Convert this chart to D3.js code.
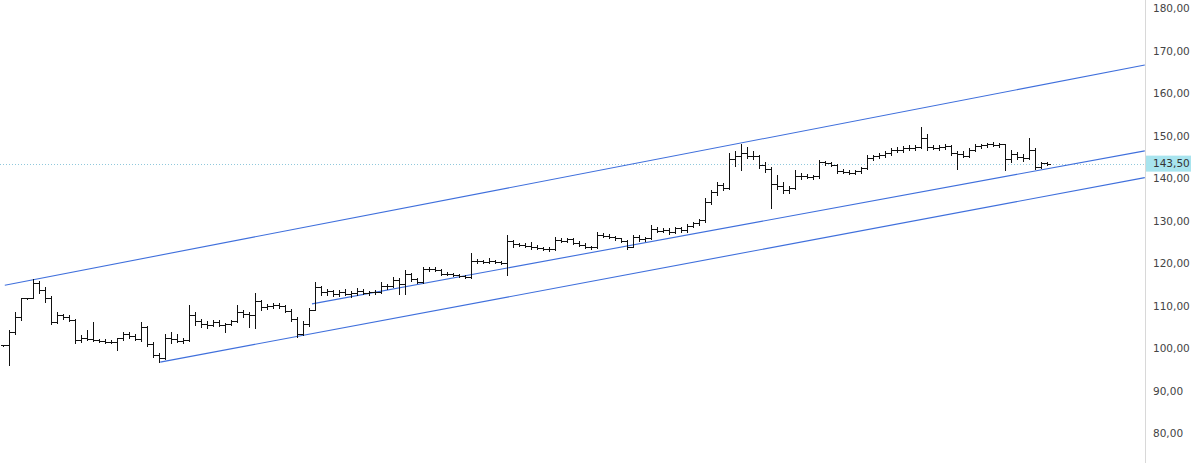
<!DOCTYPE html>
<html>
<head>
<meta charset="utf-8">
<script src="https://cdn.jsdelivr.net/npm/d3@7"></script>
<style>
  body { margin: 0; background: #fff; }
  svg { display: block; }
</style>
</head>
<body>
<div id="chart"></div>
<script>
// bar values (price), one per bar index
const opens = [100.8,100.8,104,107.5,111.9,111.9,115.5,113.8,112,106.3,107.8,107.4,106.8,102,102.5,102.3,101.9,101.8,101.6,101.5,
  102.5,103.5,103,102.2,105,101,98.5,97.8,102.5,102.3,101.8,102,108,106.5,105.8,105.5,106.3,105.6,105.8,106.5,
  108.5,108.2,107.8,111.2,109.8,110,110.3,109.9,108.9,107,103.5,105.8,109,114.5,113.2,113.5,112.8,113.3,112.9,113,
  113.5,113.1,113.4,113.2,114.8,114.6,116.2,115.2,117.5,116.3,115.7,118.7,118.8,118.4,117.6,117.5,117.3,117,116.8,120.6,
  120.5,120.4,120.6,120.4,120.1,125.2,124.5,124.4,124.1,124,123.6,123.4,123.3,125.6,125.4,125.7,124.9,124.4,123.9,123.8,
  126.8,126.5,126.2,125.9,125.2,124,126.2,125.8,126,128.2,127.7,128,127.4,128.3,127.8,128.9,129.5,130.2,134.5,136.8,
  138.5,137.8,144.5,145.2,146,145.3,145.2,143.2,142.3,138.8,138.2,137.2,137.8,140.5,140.6,140.4,140.5,143.8,143.6,143.2,
  141.8,141.6,141.4,141.7,142.5,144.8,145.2,145.6,145.9,146.8,146.6,147.2,147.1,147.5,149.5,147.3,147.2,147.4,147.6,146,
  145.8,145.4,146.8,147.6,147.9,148.1,147.9,148,144.5,145.8,145.1,144.8,146.8,142.8,143.6];
const highs = [100.9,104.4,108.6,111.9,112,116.3,116,114.5,112.3,108.5,108.2,107.8,107,103.2,104.4,106.3,102.3,102.2,102,102.5,
  104,103.8,103.5,106.3,105.3,101.5,99,103.5,103.8,103.4,102.5,110.2,108.5,107,106.5,106.7,106.7,105.9,106.8,110.3,
  109,108.6,113.1,111.5,110.5,110.8,110.6,110.3,109.2,107.5,106.5,109.5,115.6,114.8,114,113.8,113.8,114,113.6,114.2,
  113.9,113.6,113.8,115.6,115.2,116.8,116.6,118.4,117.8,116.6,119.1,119.2,119.1,118.7,117.9,117.8,117.5,117.2,122.5,121,
  120.9,121.3,120.9,120.7,126.7,125.6,124.9,124.8,125,124.3,123.9,123.8,126.3,126,126,126,125.2,124.8,124.2,127.5,
  127.1,126.9,126.5,126.1,125.5,126.6,126.6,126.3,129,128.5,128.4,128.3,128.6,128.7,129.3,129.8,130.5,135.5,137.3,139.2,
  139,146,146.5,148.1,147.3,146.5,145.5,144,142.6,140.8,139.2,138.2,142,141.2,141.1,140.9,144.4,144.2,144,143.5,
  142.3,142.1,142,142.8,145.5,145.6,146,146.4,147.2,147.5,147.6,147.8,147.8,152.1,150.5,147.8,147.9,148,147.9,146.5,
  146.4,147.2,148,148.2,148.4,148.5,148.3,148.2,146.8,146.3,145.8,149.5,147.2,143.9,143.9];
const lows = [100.7,96.1,103.5,106.8,111.7,111.8,113,111,105.8,106,107,106.4,101.2,101.6,102,101.8,101.5,101.3,101.2,99.6,
  102,102.5,101.9,101.8,100.5,98,96.8,97.5,101.2,101.5,101.2,101.8,105.5,105,104.8,105.2,105.3,103.8,105.5,106.2,
  107.5,105,104.8,109,109.3,109.6,109.5,108.6,106.5,102.7,103.2,105.2,109,112.5,112.5,112.3,112.4,112.6,112.2,112.7,
  112.8,112.7,112.9,113,114,114.4,112.9,112.9,116,115.4,115.5,118.3,118.2,117.3,117.2,117,116.8,116.6,116.7,120.2,
  120.1,120.2,120.1,119.9,117.2,124,124.1,123.8,123.5,123.3,123.1,123,123.1,125.1,125.1,124.6,124.1,123.6,123.5,123.6,
  126.2,126,125.6,125,123.5,123.8,125.4,125.4,125.7,127.4,127.3,127,127.1,127.5,127.5,128.5,129,129.8,134,136.2,
  137.2,137.5,143,141.9,144.8,144.5,142.5,141.6,133,137.5,136.6,136.5,137.5,140,140.1,139.9,140.2,143.2,142.9,141.3,
  141.2,141,141,141.3,142.2,144.3,144.9,145,145.5,146.2,146.3,146.8,146.7,147.2,146.8,146.9,146.7,146.9,145.5,142.2,
  145,145.1,146.5,147.2,147.5,147.6,147.4,142.1,144,144.6,144.2,144.5,142.2,142.5,143.2];
const closes = opens.slice(1).concat([143.5]);

// price axis
const yTicks = [80,90,100,110,120,130,140,150,160,170,180];
const lastPrice = 143.5;

// channel lines: [bar index, price]
const channels = [
  [[0.3,114.9],[190.3,166.7]],
  [[51.5,110.5],[190.3,146.5]],
  [[26.2,96.8],[190.3,140.2]]
];

const width = 1200, height = 463;
const axisX = 1145;

const x = d3.scaleLinear()
  .domain([0, opens.length - 1])
  .range([3, 1047]);

const y = d3.scaleLinear()
  .domain([80, 180])
  .range([433.5, 8.5]);

const fmt = v => d3.format('.2f')(v).replace('.', ',');

const svg = d3.select('#chart')
  .append('svg')
  .attr('width', width)
  .attr('height', height);

// clip everything to the plot area
svg.append('clipPath')
  .attr('id', 'plot-clip')
  .append('rect')
  .attr('x', 0).attr('y', 0)
  .attr('width', axisX).attr('height', height);

const plot = svg.append('g')
  .attr('clip-path', 'url(#plot-clip)');

// last price dotted line
plot.append('line')
  .attr('x1', 0).attr('x2', axisX)
  .attr('y1', Math.round(y(lastPrice)) + 0.5)
  .attr('y2', Math.round(y(lastPrice)) + 0.5)
  .attr('stroke', '#8fc8dc')
  .attr('stroke-width', 1)
  .attr('stroke-dasharray', '1,2');

// channel lines
const line = d3.line()
  .x(d => x(d[0]))
  .y(d => y(d[1]));

plot.selectAll('.channel')
  .data(channels)
  .enter()
  .append('path')
  .attr('class', 'channel')
  .attr('d', line)
  .attr('fill', 'none')
  .attr('stroke', '#3f6fdc')
  .attr('stroke-width', 1.1);

// ohlc bars
const bars = opens.map((o, i) => ({i: i, o: o, h: highs[i], l: lows[i], c: closes[i]}));
const tick = 3;
const px = v => Math.round(v) + 0.5;

const barG = plot.selectAll('.bar')
  .data(bars)
  .enter()
  .append('g')
  .attr('class', 'bar')
  .attr('stroke', '#111')
  .attr('stroke-width', 1)
  .attr('shape-rendering', 'crispEdges');

barG.append('line')
  .attr('x1', d => px(x(d.i))).attr('x2', d => px(x(d.i)))
  .attr('y1', d => Math.round(y(d.h))).attr('y2', d => Math.round(y(d.l)) + 1);

barG.append('line')
  .attr('x1', d => px(x(d.i)) - tick).attr('x2', d => px(x(d.i)))
  .attr('y1', d => px(y(d.o))).attr('y2', d => px(y(d.o)));

barG.append('line')
  .attr('x1', d => px(x(d.i))).attr('x2', d => px(x(d.i)) + tick)
  .attr('y1', d => px(y(d.c))).attr('y2', d => px(y(d.c)));

// right axis
svg.append('line')
  .attr('x1', axisX + 0.5).attr('x2', axisX + 0.5)
  .attr('y1', 0).attr('y2', height)
  .attr('stroke', '#d8d8d8');

svg.selectAll('.ylabel')
  .data(yTicks)
  .enter()
  .append('text')
  .attr('class', 'ylabel')
  .attr('x', 1153)
  .attr('y', d => y(d))
  .attr('dy', '0.35em')
  .attr('font-family', 'DejaVu Sans, sans-serif')
  .attr('font-size', 10.5)
  .attr('fill', '#444')
  .text(fmt);

// last price tag
const tag = svg.append('g')
  .attr('transform', `translate(${axisX + 1},${y(lastPrice)})`);

tag.append('rect')
  .attr('x', 0).attr('y', -8)
  .attr('width', 45).attr('height', 16)
  .attr('fill', '#a8e4ee');

tag.append('text')
  .attr('x', 7).attr('y', 0)
  .attr('dy', '0.35em')
  .attr('font-family', 'DejaVu Sans, sans-serif')
  .attr('font-size', 10.5)
  .attr('fill', '#333')
  .text(fmt(lastPrice));
</script>
</body>
</html>
